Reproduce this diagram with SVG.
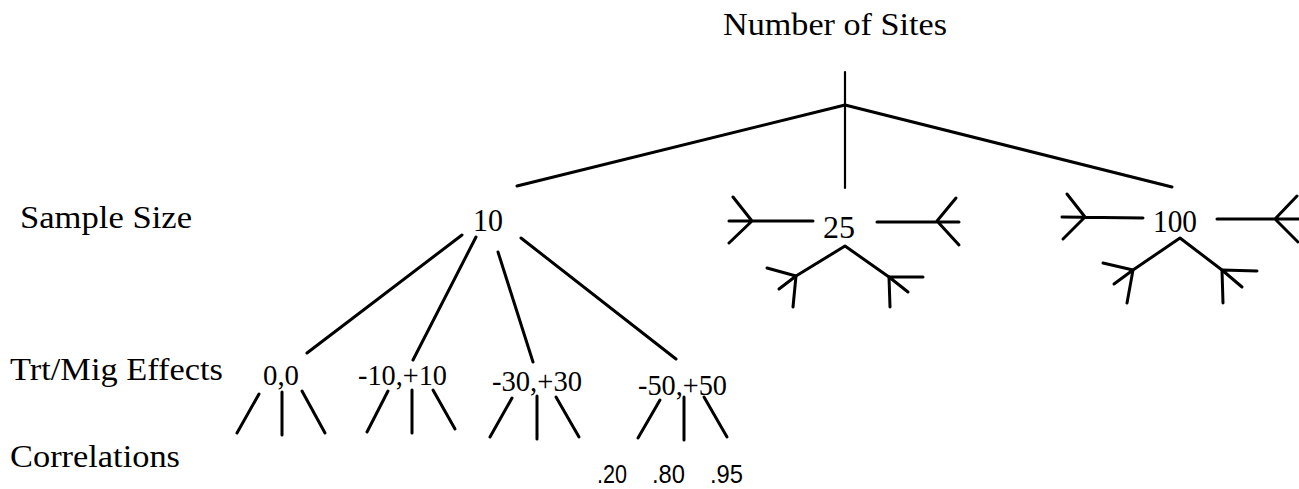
<svg xmlns="http://www.w3.org/2000/svg" width="1299" height="489" viewBox="0 0 1299 489">
<style>
  .t { font-family: "Liberation Serif", "Times New Roman", serif; fill: #000; }
  .lbl { font-size: 32px; }
  .num { font-size: 32px; }
  .eff { font-size: 29px; }
  .cor { font-family: "Liberation Sans", Arial, sans-serif; font-size: 26px; fill: #000; }
  .ln { stroke: #000; stroke-width: 3; stroke-linecap: round; fill: none; stroke-linejoin: round; }
  .thin { stroke-width: 2.2; }
</style>
<rect width="1299" height="489" fill="#fff"/>

<g id="connectors">
  <!-- root -->
  <line class="ln thin" x1="845" y1="72" x2="845" y2="188"/>
  <line class="ln" x1="845" y1="105" x2="517" y2="186"/>
  <line class="ln" x1="845" y1="105" x2="1172" y2="187"/>
  <!-- from 10 -->
  <line class="ln" x1="462" y1="235" x2="307" y2="353"/>
  <line class="ln" x1="476" y1="237" x2="413" y2="360"/>
  <line class="ln" x1="498" y1="252" x2="533" y2="362"/>
  <line class="ln" x1="521" y1="238" x2="676" y2="359"/>
  <!-- under 0,0 -->
  <line class="ln" x1="259" y1="394" x2="237" y2="433"/>
  <line class="ln" x1="282" y1="392" x2="282" y2="435"/>
  <line class="ln" x1="302" y1="391" x2="325" y2="433"/>
  <!-- under -10,+10 -->
  <line class="ln" x1="388" y1="391" x2="367" y2="432"/>
  <line class="ln" x1="412" y1="390" x2="412" y2="433"/>
  <line class="ln" x1="433" y1="390" x2="455" y2="429"/>
  <!-- under -30,+30 -->
  <line class="ln" x1="512" y1="398" x2="490" y2="437"/>
  <line class="ln" x1="537" y1="396" x2="537" y2="439"/>
  <line class="ln" x1="556" y1="397" x2="579" y2="437"/>
  <!-- under -50,+50 -->
  <line class="ln" x1="660" y1="400" x2="638" y2="438"/>
  <line class="ln" x1="684" y1="397" x2="684" y2="440"/>
  <line class="ln" x1="704" y1="397" x2="727" y2="437"/>
  <!-- stubs of 25 -->
  <path class="ln" d="M729,221 L813,221 M733,197 L752,221 L729,243"/>
  <path class="ln" d="M877,222 L959,222 M956,198 L937,221 L959,245"/>
  <path class="ln" d="M793,307 L796,276 L845,246 L889,277 L890,307"/>
  <path class="ln" d="M767,268 L796,276 L779,289"/>
  <path class="ln" d="M923,277 L889,277 L908,292"/>
  <!-- stubs of 100 -->
  <path class="ln" d="M1062,217 L1143,218 M1067,194 L1085,217 L1063,239"/>
  <path class="ln" d="M1217,219 L1299,219 M1297,196 L1275,219 L1298,242"/>
  <path class="ln" d="M1127,303 L1133,270 L1180,238 L1222,270 L1223,303"/>
  <path class="ln" d="M1103,263 L1133,270 L1114,284"/>
  <path class="ln" d="M1257,271 L1222,270 L1242,287"/>
</g>

<g id="title"><text class="t lbl" x="723" y="35" textLength="224" lengthAdjust="spacingAndGlyphs">Number of Sites</text></g>
<g id="label-sample"><text class="t lbl" x="20" y="228" textLength="172" lengthAdjust="spacingAndGlyphs">Sample Size</text></g>
<g id="label-effects"><text class="t lbl" x="10" y="380" textLength="213" lengthAdjust="spacingAndGlyphs">Trt/Mig Effects</text></g>
<g id="label-corr"><text class="t lbl" x="10" y="467" textLength="170" lengthAdjust="spacingAndGlyphs">Correlations</text></g>

<g id="n10"><text class="t num" x="473" y="231" textLength="30" lengthAdjust="spacingAndGlyphs">10</text></g>
<g id="n25"><text class="t num" x="823" y="238" textLength="32" lengthAdjust="spacingAndGlyphs">25</text></g>
<g id="n100"><text class="t num" x="1153" y="232" textLength="44" lengthAdjust="spacingAndGlyphs">100</text></g>

<g id="e0"><text class="t eff" x="263" y="385" textLength="36" lengthAdjust="spacingAndGlyphs">0,0</text></g>
<g id="e10"><text class="t eff" x="358" y="385" textLength="89" lengthAdjust="spacingAndGlyphs">-10,+10</text></g>
<g id="e30"><text class="t eff" x="492" y="391" textLength="90" lengthAdjust="spacingAndGlyphs">-30,+30</text></g>
<g id="e50"><text class="t eff" x="638" y="395" textLength="89" lengthAdjust="spacingAndGlyphs">-50,+50</text></g>

<g id="c20"><text class="cor" x="597" y="483" textLength="30" lengthAdjust="spacingAndGlyphs">.20</text></g>
<g id="c80"><text class="cor" x="652" y="483" textLength="33" lengthAdjust="spacingAndGlyphs">.80</text></g>
<g id="c95"><text class="cor" x="710" y="483" textLength="33" lengthAdjust="spacingAndGlyphs">.95</text></g>
</svg>
